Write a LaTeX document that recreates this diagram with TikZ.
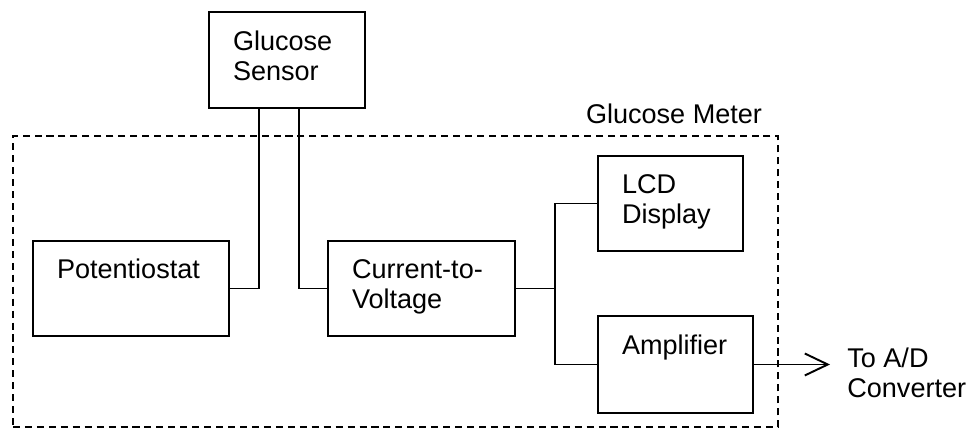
\documentclass[tikz,border=0pt]{standalone}
\usepackage{fontspec}
\setmainfont{Liberation Sans}
\usetikzlibrary{arrows.meta,calc,positioning}

\begin{document}
\begin{tikzpicture}[
  every node/.style={font=\fontsize{15.4}{17}\selectfont},
  block/.style={
    draw,
    line width=1.1pt,
    minimum height=1.9cm,
    inner xsep=0.48cm,
    align=left
  },
  frame/.style={
    draw,
    line width=1.2pt,
    dash pattern=on 4pt off 2.8pt,
    minimum width=15.3cm,
    minimum height=5.82cm
  },
  wire/.style={line width=1.1pt},
  sig/.style={-{Straight Barb[length=4.6mm,width=4.4mm]},line width=1.1pt}
]
\useasboundingbox (0,0) rectangle (19.6,8.7);
 \node[frame] (meter) at (7.91,3.07) {};
 \node[anchor=base] (mlab) at (13.48,6.22) {Glucose Meter};
 \node[block,text width=2.16cm,minimum height=1.92cm] (sensor) at (5.74,7.5) {Glucose\\Sensor\strut};
 \node[block,text width=2.96cm] (pot) at (2.62,2.93) {Potentiostat\\\strut};
 \node[block,text width=2.78cm] (c2v) at (8.43,2.93) {Current-to-\\Voltage\strut};
 \node[block,text width=1.94cm] (lcd) at (13.41,4.63) {LCD\\Display\strut};
 \node[block,text width=2.14cm,minimum height=1.94cm] (amp) at (13.51,1.41) {Amplifier\\\strut};
 \node[anchor=west,inner xsep=0.34cm,align=left] (adc) at (16.6,1.24) {To A/D\\Converter};
 \coordinate (split) at (11.1,2.93);
 \draw[wire] ($(sensor.south)+(-0.56,0)$) |- (pot);
 \draw[wire] ($(sensor.south)+(0.24,0)$) |- (c2v);
 \draw[wire] (c2v) -- (split);
 \draw[wire] (lcd) -| (split) |- (amp);
 \draw[sig] (amp) -- (amp -| adc.west);
\end{tikzpicture}
\end{document}
